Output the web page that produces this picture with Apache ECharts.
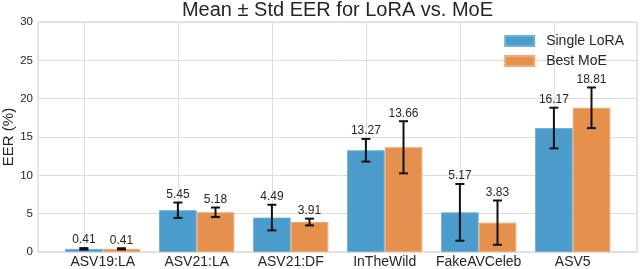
<!DOCTYPE html>
<html>
<head>
<meta charset="utf-8">
<script src="https://cdn.jsdelivr.net/npm/echarts@6/dist/echarts.min.js"></script>
<style>html,body{margin:0;padding:0;background:#fff;}#c{width:640px;height:269px;}</style>
</head>
<body>
<div id="c"></div>
<script>
const categories = ['ASV19:LA', 'ASV21:LA', 'ASV21:DF', 'InTheWild', 'FakeAVCeleb', 'ASV5'];
const loraMean = [0.41, 5.45, 4.49, 13.27, 5.17, 16.17];
const loraStd = [0.1, 1.0, 1.67, 1.48, 3.7, 2.65];
const moeMean = [0.41, 5.18, 3.91, 13.66, 3.83, 18.81];
const moeStd = [0.08, 0.62, 0.44, 3.4, 2.89, 2.65];
const yTicks = [0, 5, 10, 15, 20, 25, 30];

const FONT = '"Liberation Sans", Arial, sans-serif';
const BLUE = '#4b9bcb';
const ORANGE = '#e6904e';

const errData = [];
loraMean.forEach((m, i) => errData.push([i, m, loraStd[i], -1]));
moeMean.forEach((m, i) => errData.push([i, m, moeStd[i], 1]));

function renderErr(params, api) {
  const ci = api.value(0), m = api.value(1), s = api.value(2), side = api.value(3);
  const band = api.size([1, 0])[0];
  const c = api.coord([ci, m]);
  const x = c[0] + side * band * 0.2;
  const yt = api.coord([ci, m + s])[1];
  const yb = api.coord([ci, m - s])[1];
  const cap = 4.5;
  const st = { stroke: '#111', lineWidth: 2 };
  return {
    type: 'group',
    children: [
      { type: 'line', shape: { x1: x, y1: yt, x2: x, y2: yb }, style: st },
      { type: 'line', shape: { x1: x - cap, y1: yt, x2: x + cap, y2: yt }, style: st },
      { type: 'line', shape: { x1: x - cap, y1: yb, x2: x + cap, y2: yb }, style: st },
      { type: 'text', x: x, y: yt - 2, style: { text: m.toFixed(2), textAlign: 'center', textVerticalAlign: 'bottom', fontSize: 12, fontFamily: FONT, fill: '#262626' } }
    ]
  };
}

const chart = echarts.init(document.getElementById('c'), null, { renderer: 'canvas' });
chart.setOption({
  animation: false,
  backgroundColor: '#fff',
  title: {
    text: 'Mean ± Std EER for LoRA vs. MoE',
    left: 337.5, top: 0, textAlign: 'center', padding: 0,
    textStyle: { fontFamily: FONT, fontSize: 20, fontWeight: 'normal', color: '#262626' }
  },
  legend: {
    top: 29, right: 11, orient: 'vertical', itemWidth: 29, itemHeight: 10, itemGap: 6,
    icon: 'rect',
    textStyle: { fontFamily: FONT, fontSize: 14, color: '#262626', padding: [0, 0, 0, 7] },
    data: ['Single LoRA', 'Best MoE']
  },
  grid: [
    { left: 38, right: 3, top: 22, bottom: 17, show: true, borderColor: '#cccccc', borderWidth: 1, backgroundColor: 'transparent', outerBoundsMode: 'none', containLabel: false },
    { left: 55.7, right: 20.3, top: 22, bottom: 17, outerBoundsMode: 'none', containLabel: false }
  ],
  xAxis: [
    { type: 'value', gridIndex: 0, min: 0, max: 1, show: false },
    {
      type: 'category', gridIndex: 1, data: categories,
      axisLine: { show: false }, axisTick: { show: false }, splitLine: { show: false },
      axisLabel: { interval: 0, fontFamily: FONT, fontSize: 14, color: '#262626', margin: 3 }
    }
  ],
  yAxis: [
    {
      type: 'value', gridIndex: 0, min: 0, max: 30, interval: 5,
      name: 'EER (%)', nameLocation: 'middle', nameGap: 22, nameMoveOverlap: false,
      nameTextStyle: { fontFamily: FONT, fontSize: 15, color: '#262626' },
      axisLine: { show: false }, axisTick: { show: false },
      axisLabel: { fontFamily: FONT, fontSize: 11.5, color: '#262626', margin: 5,
        formatter: v => (yTicks.indexOf(v) >= 0 ? String(v) : '') },
      splitLine: { show: true, lineStyle: { color: '#dddddd', width: 1 } }
    },
    { type: 'value', gridIndex: 1, min: 0, max: 30, interval: 5, show: false }
  ],
  series: [
    {
      name: 'Single LoRA', type: 'bar', xAxisIndex: 1, yAxisIndex: 1, data: loraMean,
      barWidth: '40%', barGap: '0%', z: 3,
      itemStyle: { color: BLUE, borderColor: '#6fb0d8', borderWidth: 1 },
      markLine: {
        silent: true, symbol: 'none', z: 1, label: { show: false },
        lineStyle: { color: '#dddddd', width: 1, type: 'solid' },
        data: categories.map(c => ({ xAxis: c }))
      }
    },
    {
      name: 'Best MoE', type: 'bar', xAxisIndex: 1, yAxisIndex: 1, data: moeMean,
      barWidth: '40%', barGap: '0%', z: 3,
      itemStyle: { color: ORANGE, borderColor: '#efaa75', borderWidth: 1 }
    },
    {
      type: 'custom', xAxisIndex: 1, yAxisIndex: 1, data: errData, renderItem: renderErr, z: 5, silent: true
    }
  ]
});
</script>
</body>
</html>
